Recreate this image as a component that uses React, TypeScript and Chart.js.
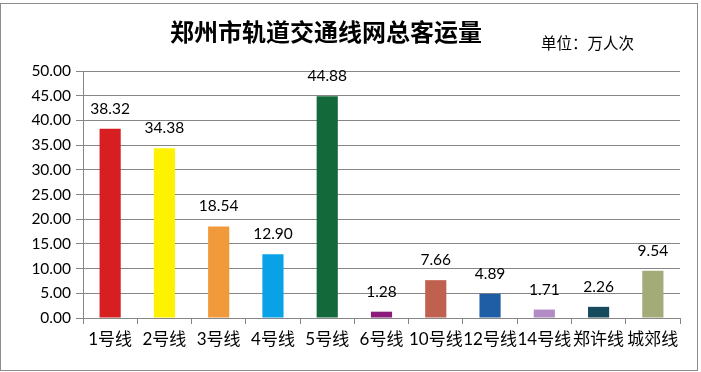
import React, { useEffect, useRef } from "react";
import { Chart, registerables } from "chart.js";

Chart.register(...registerables);

const categories = ["1号线", "2号线", "3号线", "4号线", "5号线", "6号线", "10号线", "12号线", "14号线", "郑许线", "城郊线"];
const values = [38.32, 34.38, 18.54, 12.9, 44.88, 1.28, 7.66, 4.89, 1.71, 2.26, 9.54];
const barColors = ["#D71F22", "#FFF200", "#F19A3B", "#0AA2E6", "#13693A", "#8C1C7C", "#C0614F", "#1F5EA4", "#B28DC5", "#174A5D", "#A3AB78"];
const titleText = "郑州市轨道交通线网总客运量";
const unitText = "单位：万人次";

export default function App() {
  const ref = useRef<HTMLCanvasElement>(null);
  useEffect(() => {
    if (!ref.current) return;
    const decor = {
      id: "decor",
      afterDatasetsDraw(chart: any) {
        const ctx = chart.ctx;
        const meta = chart.getDatasetMeta(0);
        ctx.save();
        ctx.fillStyle = "#000";
        ctx.font = "15.5px Lato, 'Noto Sans CJK SC'";
        ctx.textAlign = "center";
        ctx.textBaseline = "middle";
        meta.data.forEach((el: any, i: number) => {
          ctx.fillText(values[i].toFixed(2), el.x, el.y - 20);
        });
        ctx.restore();
      },
      afterDraw(chart: any) {
        const ctx = chart.ctx;
        ctx.save();
        ctx.fillStyle = "#000";
        ctx.textBaseline = "middle";
        ctx.textAlign = "center";
        ctx.font = "bold 24px 'Noto Sans CJK SC'";
        ctx.fillText(titleText, 326, 32);
        ctx.textAlign = "left";
        ctx.font = "15.5px 'Noto Sans CJK SC'";
        ctx.fillText(unitText, 541, 43);
        ctx.strokeStyle = "#8c8c8c";
        ctx.lineWidth = 1;
        ctx.strokeRect(0.5, 3.5, 697, 367);
        ctx.restore();
      },
    };
    const chart = new Chart(ref.current, {
      type: "bar",
      data: {
        labels: categories,
        datasets: [{ data: values, backgroundColor: barColors, barPercentage: 0.39, categoryPercentage: 1 }],
      },
      options: {
        animation: false,
        responsive: false,
        layout: { padding: { top: 71, right: 21, bottom: 0, left: 0 } },
        plugins: { legend: { display: false }, title: { display: false }, tooltip: { enabled: false } },
        scales: {
          x: {
            afterFit(scale: any) { scale.height = 54; },
            grid: { offset: true, drawOnChartArea: false, tickLength: 6, color: "#868686" },
            border: { color: "#868686" },
            ticks: { color: "#000", font: { size: 17, family: "Lato, 'Noto Sans CJK SC'" }, padding: 5, maxRotation: 0, autoSkip: false },
          },
          y: {
            min: 0,
            max: 50,
            afterFit(scale: any) { scale.width = 83; },
            grid: { color: "#868686", tickLength: 7 },
            border: { color: "#868686" },
            ticks: { stepSize: 5, color: "#000", font: { size: 15.5, family: "Lato" }, padding: 5, callback: (v: any) => Number(v).toFixed(2) },
          },
        },
      },
      plugins: [decor],
    });
    return () => chart.destroy();
  }, []);
  return (
    <div style={{ position: "absolute", left: 0, top: 0, width: 701, height: 372, background: "#fff" }}>
      <canvas ref={ref} width={701} height={372} />
    </div>
  );
}
